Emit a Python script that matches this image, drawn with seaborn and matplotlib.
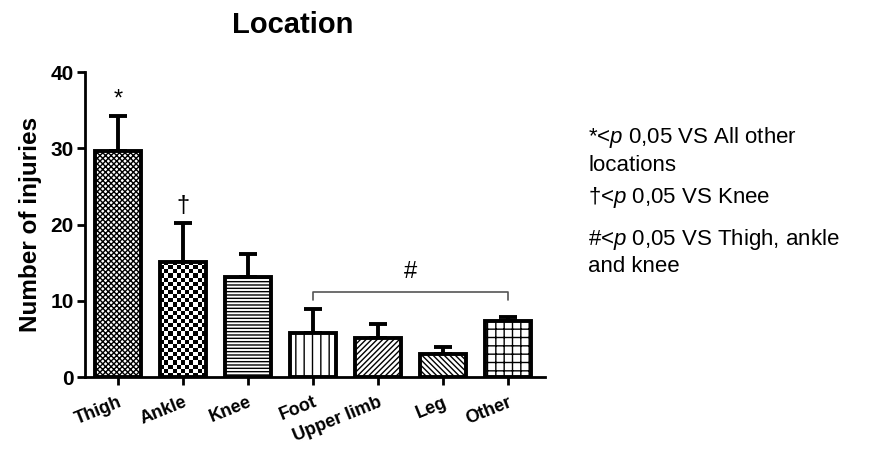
import numpy as np
import pandas as pd
import matplotlib
matplotlib.use("Agg")
import matplotlib.pyplot as plt
import seaborn as sns

locations = ["Thigh", "Ankle", "Knee", "Foot", "Upper limb", "Leg", "Other"]
injuries = [29.7, 15.1, 13.1, 5.8, 5.1, 3.0, 7.4]
error_up = [4.5, 5.1, 3.0, 3.1, 1.9, 0.9, 0.5]
hatches = ["xxxxxx", None, "-----", "||", "//////", "\\\\\\\\\\\\", "++"]
marks = ["*", "\u2020", "", "", "", "", ""]

sns.set_style("ticks")
plt.rcParams["font.family"] = ["Liberation Sans", "DejaVu Sans"]
plt.rcParams["mathtext.fontset"] = "custom"
plt.rcParams["mathtext.it"] = "Liberation Sans:italic"
plt.rcParams["mathtext.rm"] = "Liberation Sans"
plt.rcParams["hatch.linewidth"] = 1.0
for key in ["text.color", "axes.labelcolor", "xtick.color", "ytick.color", "axes.edgecolor"]:
    plt.rcParams[key] = "black"

df = pd.DataFrame({"location": locations, "injuries": injuries})

fig = plt.figure(figsize=(8.75, 4.5), dpi=100)
ax = fig.add_axes([0.097, 0.162, 0.526, 0.678])

sns.barplot(data=df, x="location", y="injuries", color="white", width=0.7,
            edgecolor="black", linewidth=2.8, errorbar=None, ax=ax)

for i, patch in enumerate(ax.patches):
    patch.set_zorder(3)
    if hatches[i]:
        patch.set_hatch(hatches[i])
    else:
        # checkerboard fill
        patch.set_facecolor("none")
        x0 = patch.get_x()
        w = patch.get_width()
        h = patch.get_height()
        nx = 11
        ny = int(round(h * 7.625 / 4.1))
        checker = (np.add.outer(np.arange(ny), np.arange(nx)) % 2).astype(float)
        im = ax.imshow(checker, cmap="gray_r", extent=(x0, x0 + w, 0, h),
                       aspect="auto", interpolation="nearest", zorder=2.5,
                       vmin=0, vmax=1)
        im.set_clip_path(patch)

ax.errorbar(range(len(locations)), injuries, yerr=[np.zeros(len(error_up)), error_up],
            fmt="none", ecolor="black", elinewidth=2.8, capsize=6.5, capthick=2.8, zorder=2)

for i, m in enumerate(marks):
    if m:
        ax.text(i, injuries[i] + error_up[i] + 0.8, m, ha="center", va="bottom",
                fontsize=17, color="black")

# bracket over Foot .. Other
ax.plot([3, 3, 6, 6], [10.1, 11.1, 11.1, 10.1], color="#555555", lw=1.2, zorder=1)
ax.text(4.5, 12.4, "#", ha="center", va="bottom", fontsize=17)

ax.set_ylim(0, 40)
ax.set_xlim(-0.51, 6.57)
ax.set_yticks([0, 10, 20, 30, 40])
ax.set_xlabel("")
ax.set_ylabel("Number of injuries", fontsize=17.5, fontweight="bold", labelpad=6)
fig.text(293 / 875, 1 - 25 / 450, "Location", fontsize=21, fontweight="bold",
         ha="center", va="center")
ax.tick_params(axis="y", labelsize=15, width=2, length=6, pad=2)
ax.tick_params(axis="x", labelsize=13, width=2, length=6, pad=6)
for lab in ax.get_yticklabels():
    lab.set_fontweight("bold")
for lab in ax.get_xticklabels():
    lab.set_fontweight("bold")
    lab.set_rotation(22)
    lab.set_ha("right")
    lab.set_rotation_mode("anchor")
sns.despine(ax=ax)
for s in ["left", "bottom"]:
    ax.spines[s].set_linewidth(2)

notes = [
    (137, r"*<$\it{p}$ 0,05 VS All other"),
    (166, "locations"),
    (197, "\u2020<$\\it{p}$ 0,05 VS Knee"),
    (240, r"#<$\it{p}$ 0,05 VS Thigh, ankle"),
    (266, "and knee"),
]
for y, t in notes:
    fig.text(588 / 875, 1 - y / 450, t, fontsize=16, va="center", ha="left")

fig.savefig("out.png", dpi=100)
